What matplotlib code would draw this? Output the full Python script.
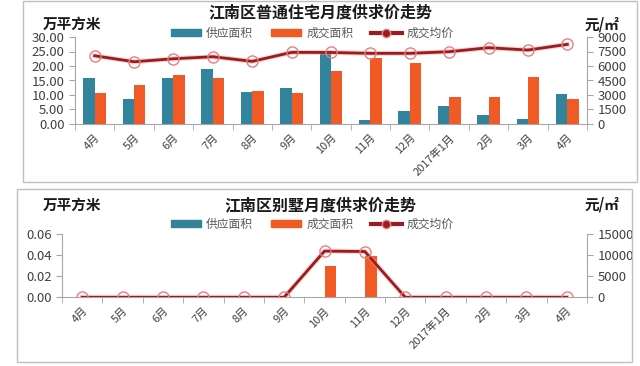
import matplotlib.pyplot as plt
from matplotlib.patches import Rectangle, Patch
from matplotlib.lines import Line2D
import numpy as np

plt.rcParams['font.family'] = ['Noto Sans CJK SC', 'DejaVu Sans']

months = ["4月", "5月", "6月", "7月", "8月", "9月", "10月", "11月", "12月",
          "2017年1月", "2月", "3月", "4月"]

# 普通住宅
supply_house = [16.0, 8.5, 16.0, 19.0, 11.1, 12.3, 25.3, 1.4, 4.5, 6.2, 3.1, 1.6, 10.3]
deal_house = [10.6, 13.4, 17.0, 16.0, 11.4, 10.6, 18.3, 22.7, 20.9, 9.4, 9.4, 16.3, 8.6]
price_house = [7060, 6440, 6750, 6960, 6480, 7410, 7400, 7310, 7310, 7480, 7890, 7650, 8240]

# 别墅
supply_villa = [0, 0, 0, 0, 0, 0, 0, 0, 0, 0, 0, 0, 0]
deal_villa = [0, 0, 0, 0, 0, 0, 0.030, 0.039, 0, 0, 0, 0, 0]
price_villa = [0, 0, 0, 0, 0, 0, 11000, 10900, 0, 0, 0, 0, 0]

c_supply = '#31849b'
c_deal = '#f15a24'
c_line = '#9b1b1e'
c_mark = '#e58080'
c_axis = '#a6a6a6'
c_text = '#404040'

fig = plt.figure(figsize=(6.4, 3.66), dpi=100)
W, H = 640, 366


def box(x0, y0, x1, y1):
    fig.patches.append(Rectangle((x0 / W, 1 - y1 / H), (x1 - x0) / W, (y1 - y0) / H,
                                 transform=fig.transFigure, fill=False,
                                 edgecolor='#bfbfbf', linewidth=1))


def panel(rect, supply, deal, price, ylim, yticks, yfmt, y2lim, y2ticks, title,
          title_y, unit_y, leg_y):
    ax = fig.add_axes(rect)
    x = np.arange(len(months))
    bw = 0.29
    ax.bar(x - bw / 2, supply, bw, color=c_supply, zorder=2)
    ax.bar(x + bw / 2, deal, bw, color=c_deal, zorder=2)
    ax.set_xlim(-0.5, len(months) - 0.5)
    ax.set_ylim(*ylim)
    ax.set_yticks(yticks)
    ax.set_yticklabels([yfmt.format(v) for v in yticks])
    ax.set_xticks(x)
    ax.set_xticklabels(months, rotation=45, ha='right', rotation_mode='anchor')
    ax.set_xticks(np.arange(len(months) + 1) - 0.5, minor=True)
    ax.tick_params(axis='x', which='major', length=0, labelsize=8, colors=c_text, pad=6)
    ax.tick_params(axis='x', which='minor', length=4, color=c_axis)
    ax.tick_params(axis='y', labelsize=9.5, colors=c_text, length=4, color=c_axis)
    for s in ['top', 'right']:
        ax.spines[s].set_visible(False)
    ax.spines['left'].set_color(c_axis)
    ax.spines['bottom'].set_color(c_axis)

    ax2 = ax.twinx()
    ax2.plot(x, price, color='#f4a0a0', linewidth=3.5, alpha=0.5, zorder=3)
    ax2.plot(x, price, color=c_line, linewidth=2, marker='o', markersize=8,
             markerfacecolor='none', markeredgecolor=c_mark, markeredgewidth=1.0, zorder=4)
    ax2.set_ylim(*y2lim)
    ax2.set_yticks(y2ticks)
    ax2.tick_params(axis='y', labelsize=9.5, colors=c_text, length=4, color=c_axis)
    for s in ['top', 'left', 'bottom']:
        ax2.spines[s].set_visible(False)
    ax2.spines['right'].set_color(c_axis)

    fig.text(320 / W, 1 - title_y / H, title, ha='center', va='center',
             fontsize=11.5, fontweight='bold', color='#1a1a1a')
    fig.text(43 / W, 1 - unit_y / H, "万平方米", ha='left', va='center',
             fontsize=10.5, fontweight='bold', color='#1a1a1a')
    fig.text(585 / W, 1 - unit_y / H, "元/㎡", ha='left', va='center',
             fontsize=10.5, fontweight='bold', color='#1a1a1a')

    handles = [Patch(color=c_supply), Patch(color=c_deal),
               Line2D([], [], color=c_line, linewidth=3, marker='o', markersize=6,
                      markerfacecolor=c_line, markeredgecolor=c_mark)]
    fig.legend(handles, ["供应面积", "成交面积", "成交均价"], ncol=3,
               loc='center', bbox_to_anchor=(312 / W, 1 - leg_y / H), frameon=False,
               fontsize=8.5, handlelength=2.6, handleheight=0.6, columnspacing=1.5,
               handletextpad=0.4, labelcolor='#595959')


box(23, 1, 637, 182)
box(17, 189, 632, 362)

panel([75 / W, 1 - 124 / H, 512 / W, 87 / H], supply_house, deal_house, price_house,
      (0, 30), [0, 5, 10, 15, 20, 25, 30], "{:.2f}", (0, 9000),
      [0, 1500, 3000, 4500, 6000, 7500, 9000],
      "江南区普通住宅月度供求价走势", 12, 24, 33)

panel([62 / W, 1 - 297.3 / H, 525 / W, 63 / H], supply_villa, deal_villa, price_villa,
      (0, 0.06), [0, 0.02, 0.04, 0.06], "{:.2f}", (0, 15000),
      [0, 5000, 10000, 15000],
      "江南区别墅月度供求价走势", 205, 205, 224)

fig.savefig("out.png", dpi=100, facecolor='white')
